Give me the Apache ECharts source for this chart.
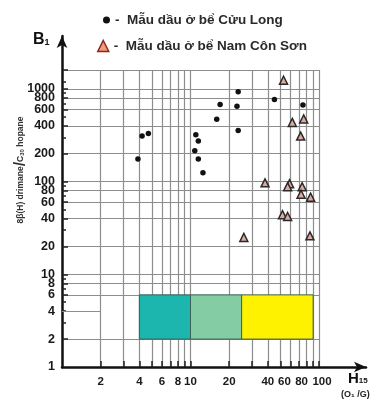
<!DOCTYPE html>
<html>
<head>
<meta charset="utf-8">
<script src="https://cdn.jsdelivr.net/npm/echarts@6/dist/echarts.min.js"></script>
<style>
html, body { margin: 0; padding: 0; background: #fff; }
#chart { width: 385px; height: 401px; }
</style>
</head>
<body>
<div id="chart"></div>
<script>
// Mẫu dầu ở bể Cửu Long (chấm tròn)
const cuuLongName = 'Mẫu dầu ở bể Cửu Long'
const cuuLongX = [3.9, 4.2, 4.7, 23.5, 45, 17, 23, 16, 23.5, 11, 11.5, 10.8, 11.5, 12.5, 75]
const cuuLongY = [175, 310, 330, 930, 770, 680, 650, 470, 355, 320, 275, 215, 175, 125, 670]

// Mẫu dầu ở bể Nam Côn Sơn (tam giác)
const namConSonName = 'Mẫu dầu ở bể Nam Côn Sơn'
const namConSonX = [53, 62, 76, 72, 38, 59, 57, 74, 72.5, 86, 52, 57, 26, 85]
const namConSonY = [1240, 435, 475, 310, 97, 95, 88, 88, 73, 68, 44, 42, 25, 26]

// vùng màu (H15 từ - đến, B1 từ - đến)
const zoneX = [[4, 10], [10, 25], [25, 90]]
const zoneY = [2, 6]
const zoneColors = ['#1cb6ae', '#84cca4', '#fff200']

// trục
const xLabels = [2, 4, 6, 8, 10, 20, 40, 60, 80, 100]
const xGridTicks = [2, 3, 4, 5, 6, 7, 8, 9, 10, 20, 30, 40, 50, 60, 70, 80, 90, 100]
const yLabels = [1, 2, 4, 6, 8, 10, 20, 40, 60, 80, 100, 200, 400, 600, 800, 1000]
const yGridTicks = [2, 6, 8, 10, 20, 40, 60, 80, 100, 200, 400, 600, 800, 1000, 1600]
const yMinorTicks = [3, 4, 5, 7, 9, 30, 50, 70, 90, 300, 500, 700, 900, 1200]
const xMin = 1, xMax = 100, yMin = 1, yMax = 1600
// đường ngắn ở mức 4 (chỉ từ 1 đến 2)
const shortLine = [[1, 4], [2, 4]]

const font = '"Liberation Sans", Arial, sans-serif'
const gridColor = '#8d8d8d'
const labelStyle = { color: '#1a1a1a', fontWeight: 'bold', fontFamily: font }
const xFont = { fontSize: 11.5, fontWeight: 'bold', color: '#1a1a1a', fontFamily: font }
// các nhãn sát nhau ở cuối trục: dịch nhẹ cho khỏi dính
const xLabelRich = {
	n: { ...xFont },
	a: { ...xFont, padding: [0, 12, 0, 0] },
	b: { ...xFont, padding: [0, 10, 0, 0] },
	c: { ...xFont, padding: [0, 0, 0, 6] }
}
const xFormat = v => {
	const r = Math.round(v)
	const k = r === 60 ? 'a' : r === 80 ? 'b' : r === 100 ? 'c' : 'n'
	return '{' + k + '|' + r + '}'
}
const yFormat = v => String(Math.round(v))

const chart = echarts.init(document.getElementById('chart'))

const option = {
	animation: false,
	textStyle: { fontFamily: font },
	legend: [{
		data: [{ name: cuuLongName, icon: 'circle', itemStyle: { color: '#111' } }],
		left: 98, top: 8,
		itemWidth: 7, itemHeight: 7, itemGap: 6,
		formatter: '-  {name}',
		textStyle: { color: '#2a2a2a', fontSize: 13.5, fontWeight: 'bold', fontFamily: font }
	}, {
		data: [{ name: namConSonName, icon: 'triangle', itemStyle: { color: '#f29a80', borderColor: '#8b2a1a', borderWidth: 1.5 } }],
		left: 92, top: 34,
		itemWidth: 11, itemHeight: 11, itemGap: 6,
		formatter: '-  {name}',
		textStyle: { color: '#2a2a2a', fontSize: 13.5, fontWeight: 'bold', fontFamily: font }
	}],
	grid: [
		{ left: 62, top: 70, width: 257, height: 297 },
		{ left: 62, top: 36, width: 304, height: 331 } // chỉ để vẽ trục có mũi tên
	],
	xAxis: [{
		type: 'log', gridIndex: 0, min: xMin, max: xMax,
		axisLine: { show: false },
		axisTick: { customValues: xGridTicks, inside: true, length: 6, lineStyle: { color: '#222', width: 1.5 } },
		axisLabel: { customValues: xLabels.filter(v => v !== 80), margin: 9, hideOverlap: false, rich: xLabelRich, formatter: xFormat },
		splitLine: { show: true, lineStyle: { color: gridColor, width: 1.2 } }
	}, {
		// nhãn 80 riêng (tránh bị ẩn vì chồng nhãn)
		type: 'log', gridIndex: 0, min: xMin, max: xMax, position: 'bottom',
		axisLine: { show: false }, axisTick: { show: false }, splitLine: { show: false },
		axisLabel: { customValues: [80], margin: 9, rich: xLabelRich, formatter: xFormat }
	}, {
		type: 'value', gridIndex: 1, min: 0, max: 1,
		axisLine: { show: true, symbol: ['none', 'arrow'], symbolSize: [8, 12], lineStyle: { color: '#111', width: 2.5 } },
		axisTick: { show: false }, axisLabel: { show: false }, splitLine: { show: false }
	}],
	yAxis: [{
		type: 'log', gridIndex: 0, min: yMin, max: yMax,
		axisLine: { show: false },
		axisTick: { customValues: yGridTicks, inside: true, length: 6, lineStyle: { color: '#222', width: 1.5 } },
		axisLabel: { customValues: yLabels.filter(v => v !== 800), margin: 7, fontSize: 12.5, lineHeight: 9, hideOverlap: false, ...labelStyle, formatter: yFormat },
		splitLine: { show: true, lineStyle: { color: gridColor, width: 1.2 } }
	}, {
		// vạch phụ + nhãn 800 riêng
		type: 'log', gridIndex: 0, min: yMin, max: yMax, position: 'left',
		axisLine: { show: false },
		axisTick: { customValues: yMinorTicks, inside: true, length: 4, lineStyle: { color: '#222', width: 1.5 } },
		axisLabel: { customValues: [800], margin: 7, fontSize: 12.5, lineHeight: 9, ...labelStyle, formatter: yFormat },
		splitLine: { show: false }
	}, {
		type: 'value', gridIndex: 1, min: 0, max: 1,
		axisLine: { show: true, symbol: ['none', 'arrow'], symbolSize: [8, 12], lineStyle: { color: '#111', width: 2.5 } },
		axisTick: { show: false }, axisLabel: { show: false }, splitLine: { show: false }
	}],
	graphic: [{
		type: 'text', left: 33, top: 32,
		style: {
			text: '{b|B}{s|1}',
			rich: {
				b: { fontSize: 16, fontWeight: 'bold', fill: '#111', fontFamily: font },
				s: { fontSize: 9, fontWeight: 'bold', fill: '#111', fontFamily: font, padding: [6, 0, 0, 0] }
			}
		}
	}, {
		type: 'text', left: 348, top: 371,
		style: {
			text: '{b|H}{s|15}',
			rich: {
				b: { fontSize: 15, fontWeight: 'bold', fill: '#111', fontFamily: font },
				s: { fontSize: 8, fontWeight: 'bold', fill: '#111', fontFamily: font, padding: [5, 0, 0, 0] }
			}
		}
	}, {
		type: 'text', left: 341, top: 390,
		style: { text: '(O₁ /G)', fontSize: 9, fontWeight: 'bold', fill: '#222', fontFamily: font }
	}, {
		type: 'text', x: 21, y: 170, rotation: Math.PI / 2,
		style: {
			text: '{a|8β(H) drimane}{sl|/}{a|C}{sub|30}{a| hopane}',
			align: 'center', verticalAlign: 'middle',
			rich: {
				a: { fontSize: 8.5, fill: '#333', fontFamily: font, fontWeight: 'bold' },
				sl: { fontSize: 16, fill: '#333', fontFamily: font, fontWeight: 'bold' },
				sub: { fontSize: 6, fill: '#333', fontFamily: font, fontWeight: 'bold', padding: [3, 0, 0, 0] }
			}
		}
	}],
	series: [{
		name: 'zones', type: 'scatter', xAxisIndex: 0, yAxisIndex: 0, data: [], silent: true, z: 1,
		markArea: {
			silent: true,
			data: zoneX.map((r, i) => [
				{ coord: [r[0], zoneY[1]], itemStyle: { color: zoneColors[i], borderColor: '#3c5f55', borderWidth: 1 } },
				{ coord: [r[1], zoneY[0]] }
			])
		},
		markLine: {
			silent: true, symbol: 'none',
			label: { show: false },
			lineStyle: { color: gridColor, width: 1.2, type: 'solid' },
			data: [[{ coord: shortLine[0] }, { coord: shortLine[1] }]]
		}
	}, {
		name: cuuLongName, type: 'scatter', xAxisIndex: 0, yAxisIndex: 0, z: 3,
		symbol: 'circle', symbolSize: 5.5,
		itemStyle: { color: '#111', opacity: 1 },
		data: cuuLongX.map((x, i) => [x, cuuLongY[i]])
	}, {
		name: namConSonName, type: 'scatter', xAxisIndex: 0, yAxisIndex: 0, z: 3,
		symbol: 'triangle', symbolSize: 8,
		itemStyle: { color: '#dcaa9e', borderColor: '#2a2a2a', borderWidth: 1.5, opacity: 1 },
		data: namConSonX.map((x, i) => [x, namConSonY[i]])
	}]
}

chart.setOption(option)
</script>
</body>
</html>
